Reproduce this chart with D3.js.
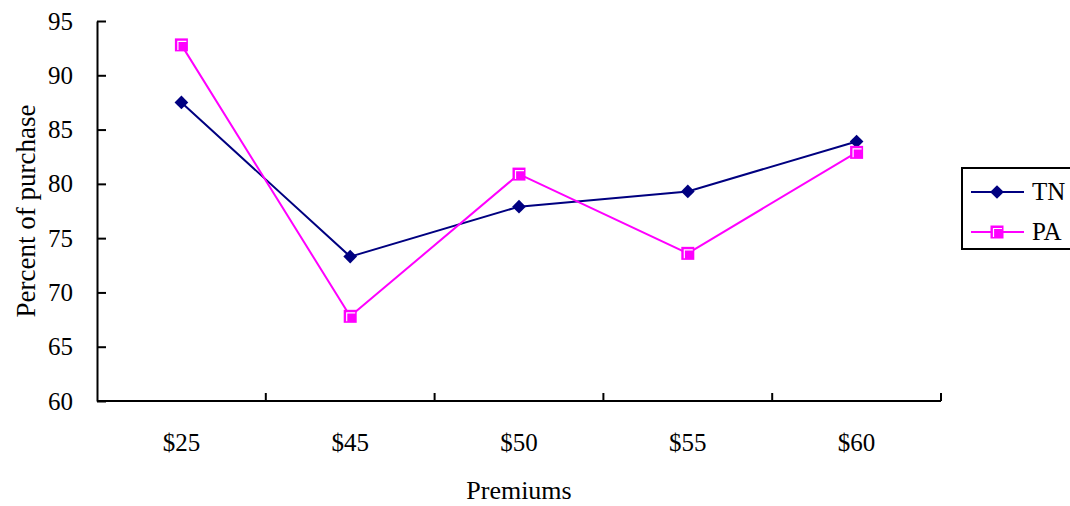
<!DOCTYPE html>
<html>
<head>
<meta charset="utf-8">
<script src="https://cdn.jsdelivr.net/npm/d3@7"></script>
<style>
  body { margin: 0; background: #fff; }
  text { font-family: "Liberation Serif", "Times New Roman", serif; }
</style>
</head>
<body>
<svg id="drawing_region"></svg>
<script>
const categories = ["$25", "$45", "$50", "$55", "$60"];
const tnValues = [87.5, 73.3, 77.9, 79.3, 83.9];
const paValues = [92.8, 67.8, 80.9, 73.6, 82.9];
const yTicks = [60, 65, 70, 75, 80, 85, 90, 95];
const seriesNames = ["TN", "PA"];

const width = 1070, height = 506;
const margin = {top: 21, left: 97, right: 129, bottom: 105};

const svg = d3.select('#drawing_region')
    .attr('width', width)
    .attr('height', height);

const inner_width = width - margin.left - margin.right;
const inner_height = height - margin.top - margin.bottom;

const chart = svg.append('g')
    .attr('transform', `translate(${margin.left}, ${margin.top})`);

const xscale = d3.scaleBand()
    .domain(categories)
    .range([0, inner_width]);

const yscale = d3.scaleLinear()
    .domain([60, 95])
    .range([inner_height, 0]);

// y axis, ticks pointing inward
const yaxis = d3.axisLeft(yscale).tickValues(yTicks).tickSizeInner(-9).tickSizeOuter(0).tickPadding(24);
const yg = chart.append('g').call(yaxis);
yg.select('.domain').attr('stroke', '#000').attr('stroke-width', 2);
yg.selectAll('.tick line').attr('stroke', '#000').attr('stroke-width', 2);
yg.selectAll('.tick text')
    .attr('font-size', '25px')
    .attr('fill', '#000')
    .style('font-family', '"Liberation Serif", serif');

// x axis: ticks between categories
const xg = chart.append('g').attr('transform', `translate(0, ${inner_height})`);
xg.append('line')
    .attr('x1', 0).attr('x2', inner_width)
    .attr('stroke', '#000').attr('stroke-width', 2);
xg.selectAll('.xtick')
    .data(categories)
    .enter()
    .append('line')
    .attr('x1', d => xscale(d) + xscale.bandwidth())
    .attr('x2', d => xscale(d) + xscale.bandwidth())
    .attr('y1', 0).attr('y2', -8)
    .attr('stroke', '#000').attr('stroke-width', 2);
xg.selectAll('.xlabel')
    .data(categories)
    .enter()
    .append('text')
    .attr('x', d => xscale(d) + xscale.bandwidth() / 2)
    .attr('y', 50)
    .attr('text-anchor', 'middle')
    .attr('font-size', '25px')
    .text(d => d);

// axis titles
svg.append('text')
    .attr('x', margin.left + inner_width / 2)
    .attr('y', 499)
    .attr('text-anchor', 'middle')
    .attr('font-size', '26px')
    .text('Premiums');

svg.append('text')
    .attr('transform', 'translate(35, 211) rotate(-90)')
    .attr('text-anchor', 'middle')
    .attr('font-size', '27px')
    .text('Percent of purchase');

const cx = (d, i) => xscale(categories[i]) + xscale.bandwidth() / 2;
const line = d3.line().x(cx).y(d => yscale(d));

// TN series
chart.append('path')
    .datum(tnValues)
    .attr('d', line)
    .attr('fill', 'none')
    .attr('stroke', '#000080')
    .attr('stroke-width', 2);

const diamond = d3.symbol().type(d3.symbolDiamond2).size(120);
const drawDiamond = (g) => g.append('path')
    .attr('d', diamond)
    .attr('fill', '#000080');

chart.selectAll('.tn')
    .data(tnValues)
    .enter()
    .append('g')
    .attr('transform', (d, i) => `translate(${cx(d, i)}, ${yscale(d)})`)
    .call(drawDiamond);

// PA series
chart.append('path')
    .datum(paValues)
    .attr('d', line)
    .attr('fill', 'none')
    .attr('stroke', '#ff00ff')
    .attr('stroke-width', 2);

const drawSquare = (g) => {
    g.append('rect')
        .attr('x', -6.5).attr('y', -6.5)
        .attr('width', 13).attr('height', 13)
        .attr('fill', '#ff00ff');
    g.append('path')
        .attr('d', 'M-3.5,5 V-3.5 H5')
        .attr('fill', 'none')
        .attr('stroke', '#fff')
        .attr('stroke-width', 1.2);
};

chart.selectAll('.pa')
    .data(paValues)
    .enter()
    .append('g')
    .attr('transform', (d, i) => `translate(${cx(d, i)}, ${yscale(d)})`)
    .call(drawSquare);

// legend
const legend = svg.append('g').attr('transform', 'translate(962, 168)');
legend.append('rect')
    .attr('width', 120).attr('height', 81)
    .attr('fill', '#fff')
    .attr('stroke', '#000').attr('stroke-width', 2);

const colors = ['#000080', '#ff00ff'];
seriesNames.forEach((name, i) => {
    const y = 24 + i * 40;
    legend.append('line')
        .attr('x1', 9).attr('x2', 62)
        .attr('y1', y).attr('y2', y)
        .attr('stroke', colors[i]).attr('stroke-width', 2);
    const g = legend.append('g').attr('transform', `translate(35, ${y})`);
    if (i === 0) drawDiamond(g); else drawSquare(g);
    legend.append('text')
        .attr('x', 70).attr('y', y + 8)
        .attr('font-size', '25px')
        .text(name);
});
</script>
</body>
</html>
